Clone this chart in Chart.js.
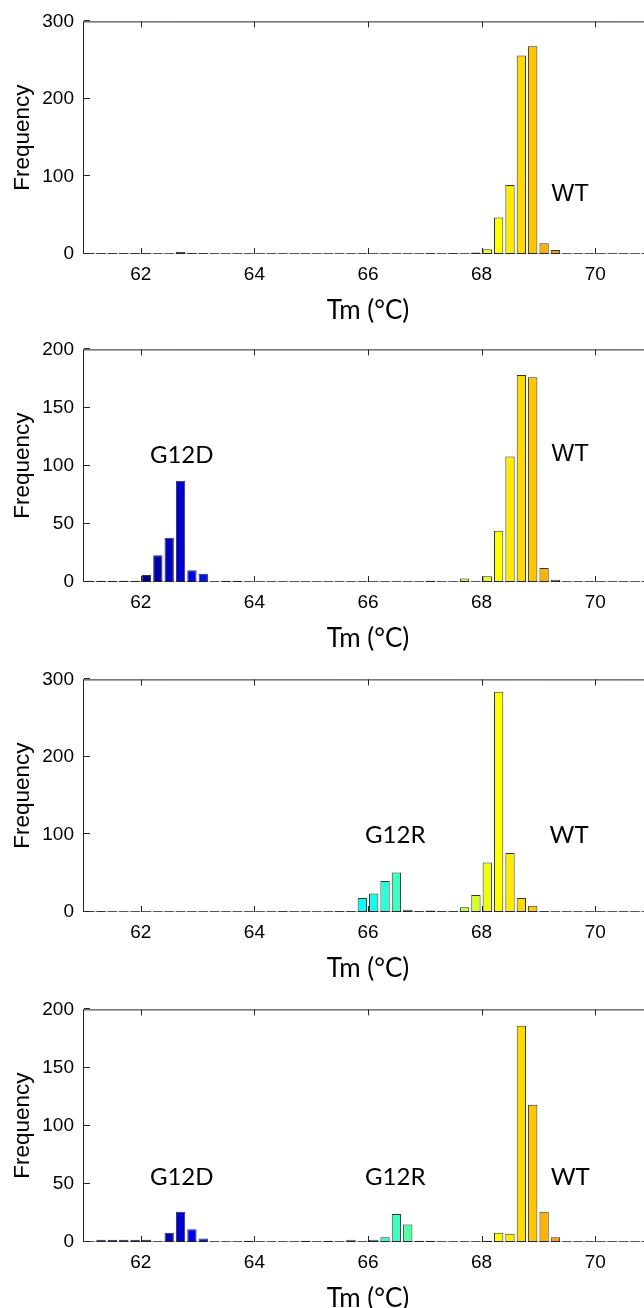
<!DOCTYPE html>
<html>
<head>
<meta charset="utf-8">
<script src="https://cdn.jsdelivr.net/npm/chart.js@4.4.0/dist/chart.umd.min.js"></script>
<style>
  html, body { margin: 0; padding: 0; background: #fff; overflow: hidden; }
  body { width: 644px; height: 1308px; position: relative; }
  canvas { position: absolute; left: 0; }
</style>
</head>
<body>
<canvas id="p1" width="652" height="330" style="top:0px"></canvas>
<canvas id="p2" width="652" height="330" style="top:328px"></canvas>
<canvas id="p3" width="652" height="330" style="top:658px"></canvas>
<canvas id="p4" width="652" height="330" style="top:988px"></canvas>
<script>
// bin centres (0.2 C bins)
const tmBins = [
    61.1, 61.3, 61.5, 61.7, 61.9, 62.1, 62.3, 62.5, 62.7, 62.9,
    63.1, 63.3, 63.5, 63.7, 63.9, 64.1, 64.3, 64.5, 64.7, 64.9,
    65.1, 65.3, 65.5, 65.7, 65.9, 66.1, 66.3, 66.5, 66.7, 66.9,
    67.1, 67.3, 67.5, 67.7, 67.9, 68.1, 68.3, 68.5, 68.7, 68.9,
    69.1, 69.3, 69.5, 69.7, 69.9, 70.1, 70.3, 70.5, 70.7, 70.9
];
const xTicks = [62, 64, 66, 68, 70];
const yTicks300 = [0, 100, 200, 300];
const yTicks200 = [0, 50, 100, 150, 200];

// frequencies per panel, one value per bin
const freqWT = [
    1, 1, 1, 1, 1, 1, 0, 0, 3, 1,
    1, 0, 0, 0, 0, 0, 0, 0, 0, 0,
    0, 0, 0, 0, 0, 0, 0, 0, 0, 0,
    1, 0, 1, 0, 2, 6, 47, 89, 256, 268,
    14, 5, 0, 0, 0, 0, 0, 0, 0, 0
];
const freqG12D = [
    1, 1, 1, 1, 1, 6, 23, 38, 87, 10,
    7, 0, 1, 1, 0, 0, 0, 0, 0, 0,
    0, 0, 0, 0, 0, 0, 0, 0, 0, 0,
    1, 0, 0, 3, 0, 5, 44, 108, 178, 176,
    12, 2, 0, 0, 0, 0, 0, 0, 0, 0
];
const freqG12R = [
    1, 1, 0, 0, 0, 0, 0, 0, 0, 0,
    0, 0, 0, 0, 0, 0, 0, 1, 0, 0,
    0, 0, 1, 1, 18, 24, 40, 51, 3, 1,
    2, 1, 1, 6, 22, 64, 284, 76, 18, 8,
    1, 0, 0, 0, 0, 0, 0, 0, 0, 0
];
const freqMix = [
    0, 2, 2, 2, 2, 2, 0, 8, 26, 11,
    3, 0, 0, 0, 1, 0, 0, 0, 0, 1,
    0, 1, 0, 2, 0, 2, 4, 24, 15, 1,
    1, 0, 0, 0, 0, 1, 8, 7, 186, 118,
    26, 4, 0, 0, 0, 0, 0, 0, 0, 0
];

const tickFont = "'Liberation Sans', Arial, sans-serif";
const softFont = "Lato, 'Open Sans', sans-serif";
const ink = '#000';

// colour stops by temperature (navy -> blue -> cyan -> yellow -> orange)
const colorStops = [
    [61.9, [0, 0, 128]],
    [62.9, [0, 0, 230]],
    [63.3, [0, 40, 255]],
    [65.9, [0, 255, 255]],
    [68.3, [255, 255, 0]],
    [69.5, [255, 140, 0]]
];

var tmColor = function (x) {
    if (x <= colorStops[0][0]) return 'rgb(' + colorStops[0][1].join(',') + ')';
    for (let i = 1; i < colorStops.length; i++) {
        const [x1, c1] = colorStops[i];
        const [x0, c0] = colorStops[i - 1];
        if (x <= x1) {
            const f = (x - x0) / (x1 - x0);
            return 'rgb(' + c0.map((c, k) => Math.round(c + (c1[k] - c) * f)).join(',') + ')';
        }
    }
    return 'rgb(' + colorStops[colorStops.length - 1][1].join(',') + ')';
}

var line = function (ctx, x1, y1, x2, y2) {
    ctx.beginPath();
    ctx.moveTo(x1, y1);
    ctx.lineTo(x2, y2);
    ctx.stroke();
}

// axes box, inward ticks, zero-bar stubs and text notes
var makeFrame = function (notes) {
    return {
        id: 'frame',
        beforeDatasetsDraw(chart) {
            const { ctx, chartArea: a, scales: { y } } = chart;
            const y0 = Math.round(y.getPixelForValue(0)) - 0.5;
            ctx.save();
            ctx.lineWidth = 1;
            ctx.strokeStyle = '#d4d4d4';
            line(ctx, a.left, y0, a.right, y0);
            ctx.strokeStyle = '#555';
            chart.getDatasetMeta(0).data.forEach(bar => {
                line(ctx, bar.x - bar.width / 2, y0, bar.x + bar.width / 2, y0);
            });
            ctx.restore();
        },
        afterDatasetsDraw(chart) {
            const { ctx, chartArea: a, scales: { x, y } } = chart;
            ctx.save();
            ctx.lineWidth = 1;
            ctx.strokeStyle = '#262626';
            line(ctx, a.left - 0.5, a.top, a.left - 0.5, a.bottom);
            line(ctx, a.left - 1, a.top + 0.5, a.right, a.top + 0.5);
            xTicks.forEach(v => {
                const px = Math.round(x.getPixelForValue(v)) + 0.5;
                line(ctx, px, a.top, px, a.top + 6);
                line(ctx, px, a.bottom, px, a.bottom - 6);
            });
            y.ticks.forEach(t => {
                const py = Math.round(y.getPixelForValue(t.value)) - 0.5;
                line(ctx, a.left, py, a.left + 6, py);
            });
            ctx.fillStyle = ink;
            ctx.textAlign = 'center';
            ctx.textBaseline = 'middle';
            notes.forEach(n => {
                ctx.font = n.font;
                ctx.fillText(n.text, x.getPixelForValue(n.at[0]), y.getPixelForValue(n.at[1]));
            });
            ctx.restore();
        }
    }
}

var drawPanel = function (id, freq, yMax, yTicks, notes) {
    const ctx = document.getElementById(id).getContext('2d');
    return new Chart(ctx, {
        type: 'bar',
        data: {
            datasets: [{
                data: tmBins.map((t, i) => ({ x: t, y: freq[i] })),
                backgroundColor: tmBins.map(tmColor),
                borderColor: 'rgba(30, 30, 30, 0.9)',
                borderWidth: 1,
                borderSkipped: false,
                categoryPercentage: 1,
                barPercentage: 0.82,
            }],
        },
        plugins: [makeFrame(notes)],
        options: {
            responsive: false,
            animation: false,
            devicePixelRatio: 1,
            layout: { padding: { top: 20, left: 0, right: 0, bottom: 0 } },
            plugins: {
                legend: { display: false },
                tooltip: { enabled: false }
            },
            scales: {
                x: {
                    type: 'linear',
                    min: 61,
                    max: 71,
                    offset: false,
                    afterBuildTicks: s => { s.ticks = xTicks.map(v => ({ value: v })) },
                    afterFit: s => { s.height = 76 },
                    grid: { display: false, drawTicks: false },
                    border: { display: false },
                    ticks: { padding: 9, color: ink, maxRotation: 0, font: { family: tickFont, size: 19 } },
                    title: {
                        display: true,
                        text: 'Tm (°C)',
                        color: ink,
                        font: { family: softFont, size: 26 },
                        padding: { top: 0, bottom: 4 }
                    }
                },
                y: {
                    min: 0,
                    max: yMax,
                    afterBuildTicks: s => { s.ticks = yTicks.map(v => ({ value: v })) },
                    afterFit: s => { s.width = 84 },
                    grid: { display: false, drawTicks: false },
                    border: { display: false },
                    ticks: { padding: 10, color: ink, font: { family: tickFont, size: 19 } },
                    title: {
                        display: true,
                        text: 'Frequency',
                        color: ink,
                        font: { family: tickFont, size: 22.5 },
                        padding: { top: 9, bottom: 0 }
                    }
                }
            }
        }
    });
}

const arialNote = "24px 'Liberation Sans', Arial, sans-serif";
const softNote = "24px Lato, 'Open Sans', sans-serif";

drawPanel('p1', freqWT, 300, yTicks300, [
    { text: 'WT', at: [69.56, 77], font: arialNote }
]);
drawPanel('p2', freqG12D, 200, yTicks200, [
    { text: 'G12D', at: [62.72, 109], font: softNote },
    { text: 'WT', at: [69.56, 110], font: arialNote }
]);
drawPanel('p3', freqG12R, 300, yTicks300, [
    { text: 'G12R', at: [66.48, 99], font: softNote },
    { text: 'WT', at: [69.54, 99], font: softNote }
]);
drawPanel('p4', freqMix, 200, yTicks200, [
    { text: 'G12D', at: [62.72, 55.5], font: softNote },
    { text: 'G12R', at: [66.48, 55.5], font: softNote },
    { text: 'WT', at: [69.56, 55.5], font: softNote }
]);
</script>
</body>
</html>
